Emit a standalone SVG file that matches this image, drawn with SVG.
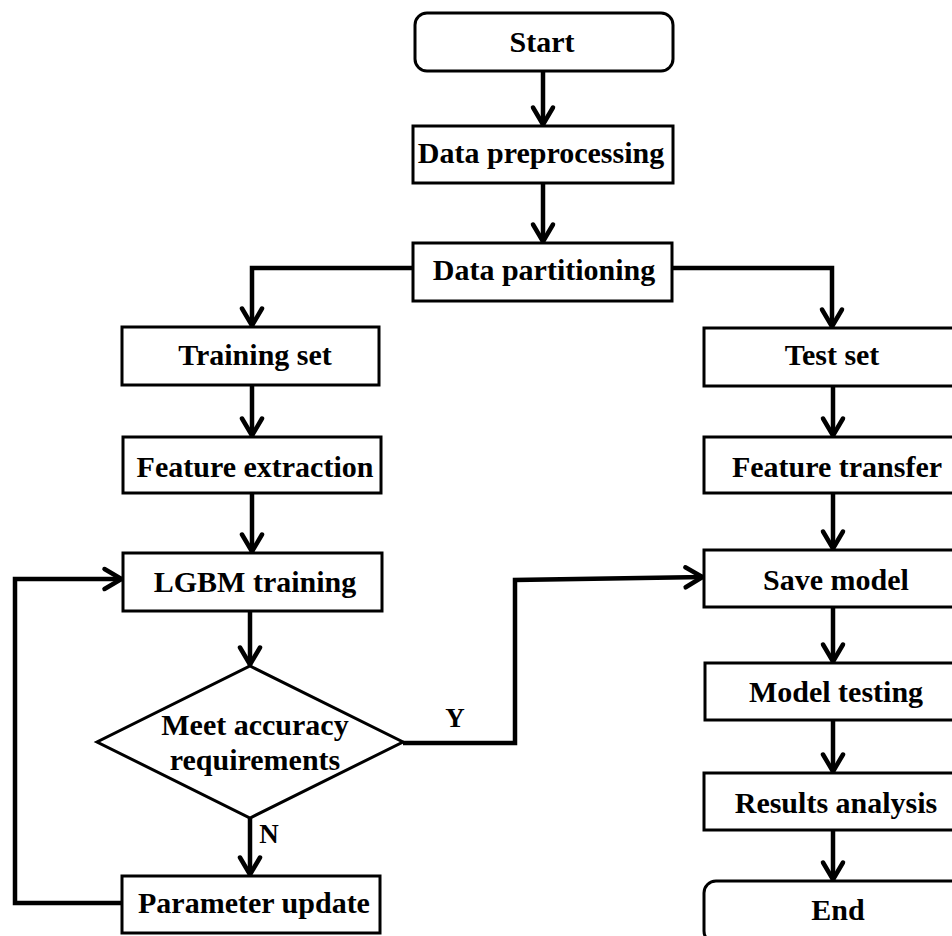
<svg xmlns="http://www.w3.org/2000/svg" width="952" height="936" viewBox="0 0 952 936">
<style>
.box{fill:#fff;stroke:#000;stroke-width:3}
.t{font-family:"Liberation Serif","Times New Roman",serif;font-weight:bold;font-size:30px;fill:#000;text-anchor:middle}
.lbl{font-family:"Liberation Serif","Times New Roman",serif;font-weight:bold;font-size:27px;fill:#000;text-anchor:middle}
.c{fill:none;stroke:#000;stroke-width:4.5;stroke-linejoin:miter}
</style>
<defs>
<marker id="ah" markerUnits="userSpaceOnUse" markerWidth="30" markerHeight="30" viewBox="-22 -15 30 30" refX="1.5" refY="0" orient="auto">
<path d="M-17,-10 L0,0 L-17,10" fill="none" stroke="#000" stroke-width="4.5" stroke-linecap="round"/>
</marker>
</defs>
<rect width="952" height="936" fill="#fff"/>
<g id="connectors">
<path class="c" d="M543,71 V126" marker-end="url(#ah)"/>
<path class="c" d="M543,183 V243" marker-end="url(#ah)"/>
<path class="c" d="M413,268 H252 V327" marker-end="url(#ah)"/>
<path class="c" d="M672,268 H832 V328" marker-end="url(#ah)"/>
<path class="c" d="M252,385 V437" marker-end="url(#ah)"/>
<path class="c" d="M252,493 V553" marker-end="url(#ah)"/>
<path class="c" d="M250,611 V666" marker-end="url(#ah)"/>
<path class="c" d="M250,818 V876" marker-end="url(#ah)"/>
<path class="c" d="M122,903 H15 V579 H123" marker-end="url(#ah)"/>
<path class="c" d="M403,743 H515 V580 L704,577" marker-end="url(#ah)"/>
<path class="c" d="M833,386 V437" marker-end="url(#ah)"/>
<path class="c" d="M833,493 V550" marker-end="url(#ah)"/>
<path class="c" d="M833,607 V663" marker-end="url(#ah)"/>
<path class="c" d="M833,720 V773" marker-end="url(#ah)"/>
<path class="c" d="M833,830 V881" marker-end="url(#ah)"/>
<text class="lbl" x="455" y="727">Y</text>
<text class="lbl" x="269" y="843">N</text>
</g>
<g id="start"><rect class="box" x="415" y="13" width="258" height="58" rx="12"/><text class="t" x="542" y="52">Start</text></g>
<g id="preprocessing"><rect class="box" x="413" y="126" width="260" height="57"/><text class="t" x="541" y="163">Data preprocessing</text></g>
<g id="partitioning"><rect class="box" x="413" y="243" width="259" height="58"/><text class="t" x="544" y="280">Data partitioning</text></g>
<g id="training-set"><rect class="box" x="122" y="327" width="257" height="58"/><text class="t" x="255" y="365">Training set</text></g>
<g id="feature-extraction"><rect class="box" x="123" y="437" width="258" height="56"/><text class="t" x="255" y="477">Feature extraction</text></g>
<g id="lgbm-training"><rect class="box" x="123" y="553" width="259" height="58"/><text class="t" x="255" y="592">LGBM training</text></g>
<g id="accuracy-check"><polygon class="box" points="250,666 403,742 250,818 97,742"/><text class="t" x="255" y="735">Meet accuracy</text><text class="t" x="255" y="770">requirements</text></g>
<g id="parameter-update"><rect class="box" x="122" y="876" width="258" height="57"/><text class="t" x="254" y="913">Parameter update</text></g>
<g id="test-set"><rect class="box" x="704" y="328" width="262" height="58"/><text class="t" x="832" y="365">Test set</text></g>
<g id="feature-transfer"><rect class="box" x="704" y="437" width="262" height="56"/><text class="t" x="837" y="477">Feature transfer</text></g>
<g id="save-model"><rect class="box" x="704" y="550" width="262" height="57"/><text class="t" x="836" y="590">Save model</text></g>
<g id="model-testing"><rect class="box" x="705" y="663" width="262" height="57"/><text class="t" x="836" y="702">Model testing</text></g>
<g id="results-analysis"><rect class="box" x="704" y="773" width="262" height="57"/><text class="t" x="836" y="813">Results analysis</text></g>
<g id="end"><rect class="box" x="704" y="881" width="262" height="62" rx="12"/><text class="t" x="838" y="920">End</text></g>
</svg>
